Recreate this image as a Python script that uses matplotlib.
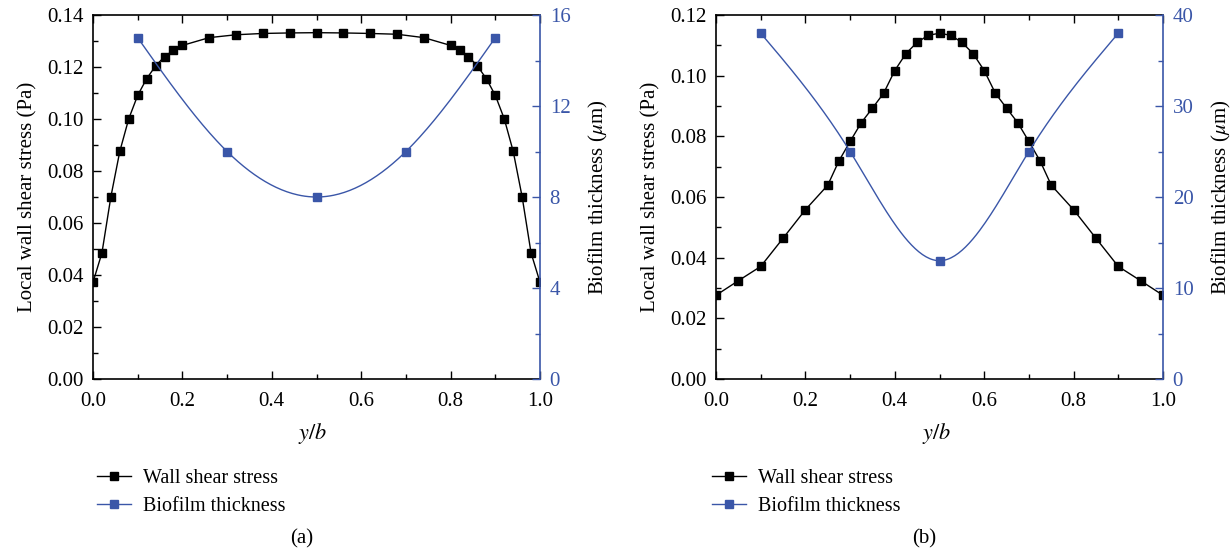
import numpy as np
import matplotlib
matplotlib.use("Agg")
import matplotlib.pyplot as plt
from matplotlib.ticker import MultipleLocator

plt.rcParams['font.family'] = ['Liberation Serif', 'DejaVu Serif']
plt.rcParams['mathtext.fontset'] = 'stix'
plt.rcParams['font.size'] = 15

BLUE = '#3a56a8'

# panel (a)
xa = [0.0, 0.02, 0.04, 0.06, 0.08, 0.10, 0.12, 0.14, 0.16, 0.18, 0.20, 0.26, 0.32,
      0.38, 0.44, 0.50, 0.56, 0.62, 0.68, 0.74, 0.80, 0.82, 0.84, 0.86, 0.88, 0.90,
      0.92, 0.94, 0.96, 0.98, 1.0]
tau_a = [0.0372, 0.0485, 0.0701, 0.0876, 0.1001, 0.1091, 0.1155, 0.1204, 0.1240,
         0.1264, 0.1283, 0.1313, 0.1324, 0.1329, 0.1331, 0.1332, 0.1331, 0.1329,
         0.1326, 0.1313, 0.1283, 0.1264, 0.1240, 0.1204, 0.1155, 0.1091, 0.1001,
         0.0876, 0.0701, 0.0485, 0.0372]
xb_a = [0.1, 0.3, 0.5, 0.7, 0.9]
bio_a = [15, 10, 8, 10, 15]

# panel (b)
xb = [0.0, 0.05, 0.10, 0.15, 0.20, 0.25, 0.275, 0.30, 0.325, 0.35, 0.375, 0.40,
      0.425, 0.45, 0.475, 0.50, 0.525, 0.55, 0.575, 0.60, 0.625, 0.65, 0.675,
      0.70, 0.725, 0.75, 0.80, 0.85, 0.90, 0.95, 1.0]
tau_b = [0.0276, 0.0324, 0.0371, 0.0464, 0.0558, 0.0639, 0.0719, 0.0783, 0.0845,
         0.0893, 0.0942, 0.1017, 0.1073, 0.1110, 0.1133, 0.1140, 0.1133, 0.1110,
         0.1073, 0.1017, 0.0942, 0.0893, 0.0845, 0.0783, 0.0719, 0.0639, 0.0558,
         0.0464, 0.0371, 0.0324, 0.0276]
xb_b = [0.1, 0.3, 0.5, 0.7, 0.9]
bio_b = [38, 25, 13, 25, 38]


def natural_spline(x, y, n=200):
    # natural cubic spline through the markers, used only for the smooth connector
    x = np.asarray(x, float)
    y = np.asarray(y, float)
    m = len(x)
    h = np.diff(x)
    A = np.zeros((m, m))
    r = np.zeros(m)
    A[0, 0] = A[-1, -1] = 1
    for i in range(1, m - 1):
        A[i, i - 1] = h[i - 1]
        A[i, i] = 2 * (h[i - 1] + h[i])
        A[i, i + 1] = h[i]
        r[i] = 6 * ((y[i + 1] - y[i]) / h[i] - (y[i] - y[i - 1]) / h[i - 1])
    M = np.linalg.solve(A, r)
    xs = np.linspace(x[0], x[-1], n)
    k = np.clip(np.searchsorted(x, xs) - 1, 0, m - 2)
    t0 = x[k + 1] - xs
    t1 = xs - x[k]
    hk = h[k]
    ys = (M[k] * t0**3 + M[k + 1] * t1**3) / (6 * hk) \
        + (y[k] / hk - M[k] * hk / 6) * t0 + (y[k + 1] / hk - M[k + 1] * hk / 6) * t1
    return xs, ys


fig = plt.figure(figsize=(12.31, 5.54), dpi=100)

# left px, data..., y max, right max, right major/minor, tag, xlabel px, tag px, legend px
panels = [
    (93, xa, tau_a, xb_a, bio_a, 0.14, 16, 4, 2, '(a)', 313, 302, 97),
    (716, xb, tau_b, xb_b, bio_b, 0.12, 40, 10, 5, '(b)', 937, 924, 712),
]

for (left_px, x, tau, xbio, bio, ymax, rmax, rmaj, rmin, tag,
     xlab_px, tag_px, leg_px) in panels:
    ax = fig.add_axes([left_px / 1231, 175 / 554, 447 / 1231, 364 / 554])
    ax2 = ax.twinx()

    l1, = ax.plot(x, tau, '-', color='black', lw=1.0, marker='s', ms=5.6,
                  mfc='black', mec='black', label='Wall shear stress', zorder=3)
    xs, ys = natural_spline(xbio, bio)
    ax2.plot(xs, ys, '-', color=BLUE, lw=1.0)
    ax2.plot(xbio, bio, 's', color=BLUE, ms=5.6, zorder=3)
    l2, = ax2.plot([], [], '-', color=BLUE, lw=1.0, marker='s', ms=5.6,
                   label='Biofilm thickness')

    ax.set_xlim(0, 1)
    ax.set_ylim(0, ymax)
    ax2.set_ylim(0, rmax)
    ax.xaxis.set_major_locator(MultipleLocator(0.2))
    ax.xaxis.set_minor_locator(MultipleLocator(0.1))
    ax.yaxis.set_major_locator(MultipleLocator(0.02))
    ax.yaxis.set_minor_locator(MultipleLocator(0.01))
    ax2.yaxis.set_major_locator(MultipleLocator(rmaj))
    ax2.yaxis.set_minor_locator(MultipleLocator(rmin))
    ax.xaxis.set_major_formatter(lambda v, p: f'{v:.1f}')
    ax.yaxis.set_major_formatter(lambda v, p: f'{v:.2f}')

    ax.tick_params(which='both', direction='in', top=True, right=False)
    ax.tick_params(which='major', length=6, width=1.0)
    ax.tick_params(which='minor', length=3.5, width=1.0)
    ax.tick_params(axis='x', which='major', pad=9)
    ax.tick_params(axis='y', which='major', pad=7)
    ax2.tick_params(which='both', direction='in', colors=BLUE)
    ax2.tick_params(which='major', length=6, width=1.0, pad=7)
    ax2.tick_params(which='minor', length=3.5, width=1.0)
    for s in ['left', 'top', 'bottom']:
        ax.spines[s].set_linewidth(1.2)
        ax2.spines[s].set_visible(False)
    ax.spines['right'].set_visible(False)
    ax2.spines['right'].set_color(BLUE)
    ax2.spines['right'].set_linewidth(1.2)

    ax.set_ylabel('Local wall shear stress (Pa)', labelpad=6.5)
    ax2.set_ylabel('Biofilm thickness ($\\mu$m)', labelpad=12)
    fig.text(xlab_px / 1231, 1 - 433 / 554, '$y/b$', ha='center', va='center',
             fontsize=16)

    fig.legend(handles=[l1, l2], loc='upper left', frameon=False,
               bbox_to_anchor=(leg_px / 1231, 1 - 469 / 554),
               borderpad=0, borderaxespad=0, handlelength=1.7,
               handletextpad=0.6, labelspacing=0.45, fontsize=14.5)
    fig.text(tag_px / 1231, 1 - 539 / 554, tag, ha='center', va='center',
             fontsize=15)

fig.savefig('out.png', dpi=100)
